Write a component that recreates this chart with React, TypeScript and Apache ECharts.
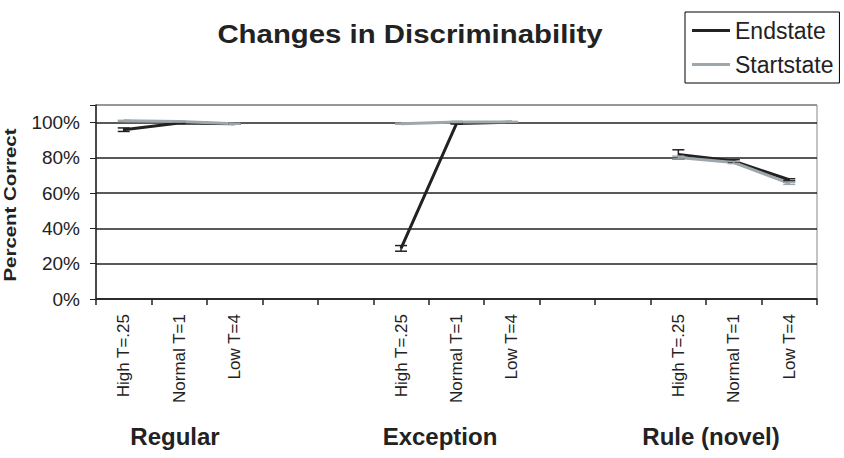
import React, { useEffect, useRef } from 'react';
import * as echarts from 'echarts';

const categories = [
  'High T=.25', 'Normal T=1', 'Low T=4', '', '',
  'High T=.25', 'Normal T=1', 'Low T=4', '', '',
  'High T=.25', 'Normal T=1', 'Low T=4',
];
const groupLabels = ['Regular', 'Exception', 'Rule (novel)'];
const groupLabelX = [175, 440, 711];
const endstate = [96, 99.8, 99.4, null, null, 28.7, 99.5, 100.2, null, null, 82, 78.2, 67.6];
const endstateErr = [1, 0.3, 0.3, null, null, 1.6, 0.3, 0.3, null, null, 2.6, 0.8, 0.6];
const startstate = [101, 100.6, 99.4, null, null, 99.4, 100.4, 100.4, null, null, 80.2, 77.4, 65.6];
const startstateErr = [0.3, 0.3, 0.3, null, null, 0.3, 0.3, 0.3, null, null, 0.8, 0.6, 0.6];

const END_COLOR = '#222222';
const START_COLOR = '#9ea7ab';
const FONT = 'Liberation Sans, Arial, sans-serif';

function errSeries(name: string, vals: (number | null)[], errs: (number | null)[], color: string) {
  const data: number[][] = [];
  vals.forEach((v, i) => {
    if (v != null && errs[i] != null) data.push([i, v, errs[i] as number]);
  });
  return {
    type: 'custom',
    name,
    data,
    z: 3,
    silent: true,
    renderItem: (params: any, api: any) => {
      const x = api.value(0);
      const y = api.value(1);
      const e = api.value(2);
      const top = api.coord([x, y + e]);
      const bot = api.coord([x, y - e]);
      const hw = 6;
      const style = { stroke: color, lineWidth: 1.5 };
      return {
        type: 'group',
        children: [
          { type: 'line', shape: { x1: top[0], y1: top[1], x2: bot[0], y2: bot[1] }, style },
          { type: 'line', shape: { x1: top[0] - hw, y1: top[1], x2: top[0] + hw, y2: top[1] }, style },
          { type: 'line', shape: { x1: bot[0] - hw, y1: bot[1], x2: bot[0] + hw, y2: bot[1] }, style },
        ],
      };
    },
  };
}

export default function App() {
  const ref = useRef<HTMLDivElement>(null);
  useEffect(() => {
    if (!ref.current) return;
    const chart = echarts.init(ref.current, undefined, { renderer: 'svg' });
    chart.setOption({
      animation: false,
      backgroundColor: '#ffffff',
      legend: {
        data: ['Endstate', 'Startstate'],
        orient: 'vertical',
        left: 685,
        top: 12,
        padding: [7, 6, 7, 7],
        itemGap: 11,
        itemWidth: 38,
        itemHeight: 3,
        icon: 'rect',
        borderColor: '#000',
        borderWidth: 1,
        textStyle: { fontFamily: FONT, fontSize: 23, color: '#222' },
      },
      grid: {
        left: 96,
        right: 27,
        top: 105,
        bottom: 159,
        show: true,
        borderColor: '#888',
        borderWidth: 1,
      },
      xAxis: {
        type: 'category',
        data: categories,
        boundaryGap: true,
        axisLine: { lineStyle: { color: '#222', width: 1.5 } },
        axisTick: { show: true, length: 6, alignWithLabel: false, interval: 0, lineStyle: { color: '#222', width: 1.5 } },
        axisLabel: {
          interval: 0,
          rotate: 90,
          margin: 15,
          fontFamily: FONT,
          fontSize: 17,
          color: '#222',
        },
      },
      yAxis: {
        type: 'value',
        min: 0,
        max: 110,
        interval: 20,
        axisLine: { show: true, lineStyle: { color: '#222', width: 1.5 } },
        axisTick: { show: true, length: 6, lineStyle: { color: '#222' } },
        axisLabel: {
          margin: 16,
          fontFamily: FONT,
          fontSize: 19,
          color: '#222',
          formatter: (v: number) => (v > 100 ? '' : v + '%'),
        },
        splitLine: {
          show: true,
          lineStyle: {
            color: ['#222', '#222', '#222', '#222', '#222', '#222', '#888'],
            width: 1.6,
          },
        },
      },
      series: [
        {
          type: 'line',
          name: 'Endstate',
          data: endstate,
          connectNulls: false,
          showSymbol: false,
          symbol: 'none',
          color: END_COLOR,
          lineStyle: { color: END_COLOR, width: 3 },
          z: 2,
        },
        errSeries('EndstateErr', endstate, endstateErr, END_COLOR),
        {
          type: 'line',
          name: 'Startstate',
          data: startstate,
          connectNulls: false,
          showSymbol: false,
          symbol: 'none',
          color: START_COLOR,
          lineStyle: { color: START_COLOR, width: 3 },
          z: 2,
        },
        errSeries('StartstateErr', startstate, startstateErr, START_COLOR),
      ],
      graphic: [
        {
          type: 'text',
          x: 410,
          y: 34,
          scaleX: 1.13,
          style: {
            text: 'Changes in Discriminability',
            fontFamily: FONT,
            fontSize: 26,
            fontWeight: 'bold',
            fill: '#222',
            textAlign: 'center',
            textVerticalAlign: 'middle',
          },
        },
        {
          type: 'text',
          x: 10,
          y: 205,
          rotation: Math.PI / 2,
          scaleX: 1.2,
          style: {
            text: 'Percent Correct',
            fontFamily: FONT,
            fontSize: 17,
            fontWeight: 'bold',
            fill: '#222',
            textAlign: 'center',
            textVerticalAlign: 'middle',
          },
        },
        ...groupLabels.map((t, i) => ({
          type: 'text',
          x: groupLabelX[i],
          y: 436,
          style: {
            text: t,
            fontFamily: FONT,
            fontSize: 24,
            fontWeight: 'bold',
            fill: '#222',
            textAlign: 'center',
            textVerticalAlign: 'middle',
          },
        })),
      ],
    });
    return () => chart.dispose();
  }, []);
  return (
    <div
      ref={ref}
      style={{ position: 'fixed', left: 0, top: 0, width: 844, height: 458 }}
    />
  );
}
